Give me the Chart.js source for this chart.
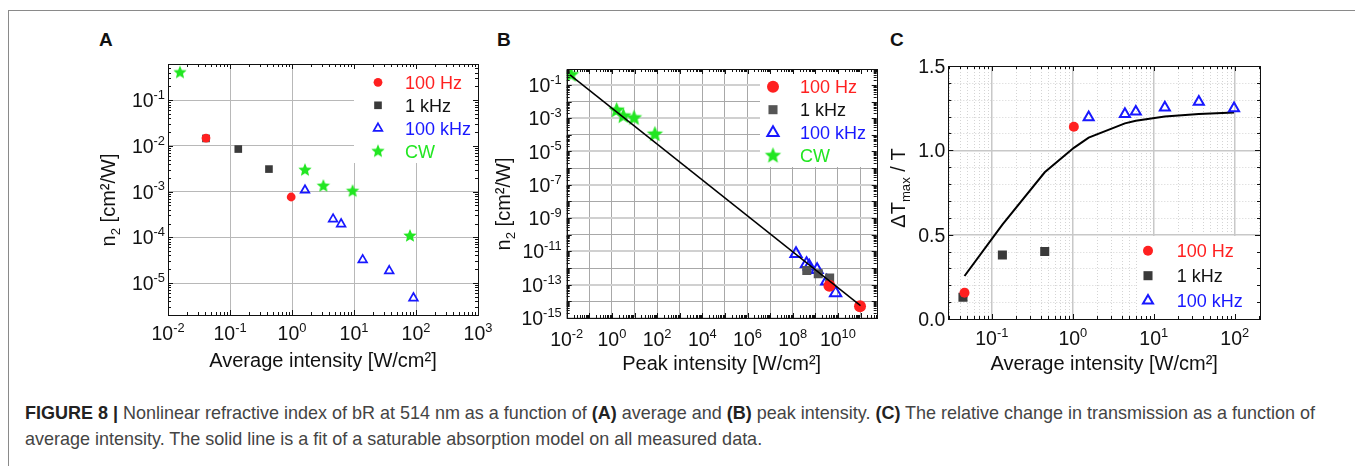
<!DOCTYPE html>
<html>
<head>
<meta charset="utf-8">
<script src="https://cdn.jsdelivr.net/npm/chart.js@4.4.1/dist/chart.umd.min.js"></script>
<style>
  body { margin: 0; background: #fff; width: 1355px; height: 466px; overflow: hidden; position: relative;
         font-family: 'Liberation Sans', Arial, sans-serif; }
  .frame { position: absolute; left: 8px; top: 10px; width: 1400px; height: 500px;
           border-left: 1px solid #8a8a8a; border-top: 1px solid #8a8a8a; }
  .cv { position: absolute; }
  .panel { position: absolute; top: 29px; font-weight: bold; font-size: 19px; color: #111; }
  .cap { position: absolute; left: 25px; top: 400px; font-size: 16px; line-height: 26px; color: #444; white-space: nowrap; }
  .cap b { color: #222; }
</style>
</head>
<body>
<div class="frame"></div>
<div class="panel" style="left:99px">A</div>
<div class="panel" style="left:497px">B</div>
<div class="panel" style="left:890px">C</div>
<canvas id="chartA" class="cv" style="left:80px;top:40px" width="425" height="345"></canvas>
<canvas id="chartB" class="cv" style="left:480px;top:40px" width="410" height="345"></canvas>
<canvas id="chartC" class="cv" style="left:870px;top:40px" width="410" height="345"></canvas>
<div class="cap" id="cap">
  <span id="cap1"><b>FIGURE 8 |</b> Nonlinear refractive index of bR at 514 nm as a function of <b>(A)</b> average and <b>(B)</b> peak intensity. <b>(C)</b> The relative change in transmission as a function of</span><br>
  <span>average intensity. The solid line is a fit of a saturable absorption model on all measured data.</span>
</div>
<script>
const FONT = "'Liberation Sans', Arial, sans-serif";
const RED = '#ff2020', DARK = '#3a3a3a', BLUE = '#1818ff', GREEN = '#22e622';

// ---- panel A : n2 vs average intensity ----
const a100HzX = [0.041, 0.97];
const a100HzY = [0.0148, 7.6e-4];
const a1kHzX = [0.041, 0.136, 0.425];
const a1kHzY = [0.0145, 0.0085, 0.0031];
const a100kHzX = [1.62, 4.6, 6.2, 13.8, 37, 91];
const a100kHzY = [1.07e-3, 2.5e-4, 1.95e-4, 3.2e-5, 1.85e-5, 4.7e-6];
const aCwX = [0.0156, 1.62, 3.2, 9.5, 80];
const aCwY = [0.40, 2.95e-3, 1.32e-3, 1.02e-3, 1.07e-4];
const aXTickExp = [-2, -1, 0, 1, 2, 3];
const aYTickExp = [-5, -4, -3, -2, -1];

// ---- panel B : n2 vs peak intensity ----
const b100HzX = [4.2e9, 9.5e10];
const b100HzY = [8.7e-14, 5e-15];
const b1kHzX = [4.2e8, 1.35e9, 4.3e9];
const b1kHzY = [7.2e-13, 4.5e-13, 2.5e-13];
const b100kHzX = [1.4e8, 4.1e8, 5.4e8, 1.2e9, 3.2e9, 7.9e9];
const b100kHzY = [7.2e-12, 1.8e-12, 1.3e-12, 7.9e-13, 1.6e-13, 3.2e-14];
const bCwX = [0.0156, 1.62, 3.2, 9.5, 80];
const bCwY = [0.40, 2.95e-3, 1.32e-3, 1.02e-3, 1.07e-4];
const bFitX = [0.014, 1.0e11];
const bFitY = [0.4, 5.5e-15];
const bXTickExp = [-2, 0, 2, 4, 6, 8, 10];
const bYTickExp = [-15, -13, -11, -9, -7, -5, -3, -1];

// ---- panel C : relative transmission change ----
const c100HzX = [0.046, 1.03];
const c100HzY = [0.156, 1.14];
const c1kHzX = [0.044, 0.135, 0.45];
const c1kHzY = [0.129, 0.38, 0.40];
const c100kHzX = [1.57, 4.4, 6.0, 13.7, 36, 98];
const c100kHzY = [1.196, 1.215, 1.229, 1.253, 1.288, 1.249];
const cFitX = [0.046, 0.135, 0.45, 1.03, 1.57, 4.4, 6.0, 13.7, 36, 98];
const cFitY = [0.255, 0.56, 0.87, 1.015, 1.075, 1.16, 1.175, 1.20, 1.215, 1.225];
const cXTickExp = [-1, 0, 1, 2];
const cYTicks = [0.0, 0.5, 1.0, 1.5];

// ---------- helpers ----------
const zip = (xs, ys) => xs.map((x, i) => ({ x, y: ys[i] }));
const decades = (a, b) => { const o = []; for (let e = a; e <= b; e++) o.push(Math.pow(10, e)); return o; };
function logMinors(lo, hi) {
  const o = [];
  for (let e = Math.floor(Math.log10(lo)) - 1; e <= Math.ceil(Math.log10(hi)); e++)
    for (let k = 2; k < 10; k++) { const v = k * Math.pow(10, e); if (v > lo && v < hi) o.push(v); }
  return o;
}
const linSteps = (a, b, st) => { const o = []; for (let v = a; v <= b + 1e-9; v += st) o.push(+v.toFixed(6)); return o; };

function starImage(R, color) {
  const c = document.createElement('canvas');
  const s = Math.ceil(2 * R + 2);
  c.width = s; c.height = s;
  const g = c.getContext('2d');
  g.fillStyle = color; g.beginPath();
  for (let i = 0; i < 10; i++) {
    const r = i % 2 ? R * 0.45 : R;
    const a = -Math.PI / 2 + i * Math.PI / 5;
    g.lineTo(s / 2 + r * Math.cos(a), s / 2 + r * Math.sin(a));
  }
  g.closePath(); g.fill();
  return c;
}

// text with super/subscripts, centred vertically on y
function rich(ctx, parts, x, y, size, align, rot) {
  ctx.save();
  ctx.translate(x, y);
  if (rot) ctx.rotate(rot);
  const f = s => (s ? size * 0.66 : size) + 'px ' + FONT;
  let w = 0;
  for (const [t, s] of parts) { ctx.font = f(s); w += ctx.measureText(t).width; }
  let cx = align === 'right' ? -w : align === 'center' ? -w / 2 : 0;
  ctx.textAlign = 'left'; ctx.textBaseline = 'alphabetic'; ctx.fillStyle = '#111';
  const base = size * 0.36;
  for (const [t, s] of parts) {
    ctx.font = f(s);
    const dy = s > 0 ? -size * 0.42 : s < 0 ? size * 0.24 : 0;
    ctx.fillText(t, cx, base + dy);
    cx += ctx.measureText(t).width;
  }
  ctx.restore();
}
const pow10Label = e => [['10', 0], [String(e), 1]];

function drawMarker(ctx, ds, x, y) {
  const st = ds.pointStyle, r = ds.pointRadius;
  ctx.save();
  if (st instanceof HTMLCanvasElement) { ctx.drawImage(st, x - st.width / 2, y - st.height / 2); ctx.restore(); return; }
  ctx.beginPath();
  if (st === 'circle') ctx.arc(x, y, r, 0, 2 * Math.PI);
  else if (st === 'rect') { const h = r * Math.SQRT1_2; ctx.rect(x - h, y - h, 2 * h, 2 * h); }
  else if (st === 'triangle') {
    for (let i = 0; i < 3; i++) { const a = i * 2 * Math.PI / 3; ctx.lineTo(x + Math.sin(a) * r, y - Math.cos(a) * r); }
    ctx.closePath();
  }
  ctx.fillStyle = ds.pointBackgroundColor; ctx.fill();
  if (ds.pointBorderWidth) { ctx.strokeStyle = ds.pointBorderColor; ctx.lineWidth = ds.pointBorderWidth; ctx.stroke(); }
  ctx.restore();
}

// frame, inward ticks, minor grid, tick labels, y title, legend
const figurePlugin = {
  id: 'figure',
  beforeDraw(chart, args, o) {
    if (!o.minorGrid) return;
    const { ctx, chartArea: ca, scales: { x, y } } = chart;
    ctx.save();
    ctx.strokeStyle = '#d4d4d4'; ctx.lineWidth = 1; ctx.setLineDash([1, 2]);
    for (const v of o.minorGrid.x) {
      const px = Math.round(x.getPixelForValue(v)) + 0.5;
      ctx.beginPath(); ctx.moveTo(px, ca.top); ctx.lineTo(px, ca.bottom); ctx.stroke();
    }
    for (const v of o.minorGrid.y) {
      const py = Math.round(y.getPixelForValue(v)) + 0.5;
      ctx.beginPath(); ctx.moveTo(ca.left, py); ctx.lineTo(ca.right, py); ctx.stroke();
    }
    ctx.restore();
  },
  afterDatasetsDraw(chart, args, o) {
    const { ctx } = chart;
    const lg = o.legend;
    ctx.save();
    ctx.fillStyle = '#fff';
    ctx.fillRect(lg.box[0], lg.box[1], lg.box[2] - lg.box[0], lg.box[3] - lg.box[1]);
    let row = 0;
    chart.data.datasets.forEach(ds => {
      if (ds.showLine) return;
      const yy = lg.y + row * lg.dy;
      drawMarker(ctx, ds, lg.mx, yy);
      ctx.font = lg.size + 'px ' + FONT;
      ctx.fillStyle = ds.textColor; ctx.textAlign = 'left'; ctx.textBaseline = 'alphabetic';
      ctx.fillText(ds.label, lg.tx, yy + lg.size * 0.36);
      row++;
    });
    ctx.restore();
  },
  afterDraw(chart, args, o) {
    const { ctx, chartArea: ca, scales: { x, y } } = chart;
    ctx.save();
    ctx.strokeStyle = '#111'; ctx.lineWidth = 1;
    const tick = (vals, len, horiz) => {
      for (const v of vals) {
        ctx.beginPath();
        if (horiz) {
          const px = Math.round(x.getPixelForValue(v)) + 0.5;
          ctx.moveTo(px, ca.bottom); ctx.lineTo(px, ca.bottom - len);
          ctx.moveTo(px, ca.top); ctx.lineTo(px, ca.top + len);
        } else {
          const py = Math.round(y.getPixelForValue(v)) + 0.5;
          ctx.moveTo(ca.left, py); ctx.lineTo(ca.left + len, py);
          ctx.moveTo(ca.right, py); ctx.lineTo(ca.right - len, py);
        }
        ctx.stroke();
      }
    };
    tick(o.xMajor, 5, true); tick(o.xMinor, 3, true);
    tick(o.yMajor, 5, false); tick(o.yMinor, 3, false);
    ctx.strokeRect(Math.round(ca.left) + 0.5, Math.round(ca.top) + 0.5,
                   Math.round(ca.right - ca.left), Math.round(ca.bottom - ca.top));
    ctx.restore();
    for (const [v, parts] of o.xLabels) rich(ctx, parts, x.getPixelForValue(v), ca.bottom + o.xLabOff, 19.5, 'center');
    for (const [v, parts] of o.yLabels) rich(ctx, parts, ca.left - o.yLabOff, y.getPixelForValue(v), 19.5, 'right');
    rich(ctx, o.yTitle, o.yTitlePos[0], o.yTitlePos[1], 20, 'center', -Math.PI / 2);
  }
};

function pointSet(label, xs, ys, style, r, fill, stroke, bw, textColor) {
  return {
    label, data: zip(xs, ys), pointStyle: style, pointRadius: r, pointHoverRadius: r,
    pointBackgroundColor: fill, pointBorderColor: stroke, pointBorderWidth: bw,
    showLine: false, textColor
  };
}
function fitSet(xs, ys, w) {
  return { label: 'fit', data: zip(xs, ys), showLine: true, pointRadius: 0, borderColor: '#000', borderWidth: w, fill: false };
}

function makeChart(id, datasets, sc, fig) {
  new Chart(document.getElementById(id), {
    type: 'scatter',
    data: { datasets },
    options: {
      responsive: false, animation: false, devicePixelRatio: 1,
      layout: { padding: sc.padding },
      plugins: { legend: { display: false }, tooltip: { enabled: false }, figure: fig },
      scales: {
        x: {
          type: sc.xType, min: sc.xMin, max: sc.xMax,
          afterBuildTicks: s => { s.ticks = sc.xGrid.map(v => ({ value: v })); },
          afterFit: s => { s.height = sc.xHeight; },
          ticks: { display: false },
          grid: Object.assign({ drawTicks: false }, sc.xGridStyle),
          border: { display: false },
          title: { display: true, text: sc.xTitle, color: '#111', font: { size: 20, family: FONT },
                   padding: { top: 0, bottom: sc.xTitlePad } }
        },
        y: {
          type: sc.yType, min: sc.yMin, max: sc.yMax,
          afterBuildTicks: s => { s.ticks = sc.yGrid.map(v => ({ value: v })); },
          afterFit: s => { s.width = sc.yWidth; },
          ticks: { display: false },
          grid: Object.assign({ drawTicks: false }, sc.yGridStyle),
          border: { display: false }
        }
      }
    },
    plugins: [figurePlugin]
  });
}

// ---------- panel A ----------
makeChart('chartA', [
  pointSet('100 Hz', a100HzX, a100HzY, 'circle', 4.4, RED, RED, 0, RED),
  pointSet('1 kHz', a1kHzX, a1kHzY, 'rect', 5.4, DARK, DARK, 0, '#111'),
  pointSet('100 kHz', a100kHzX, a100kHzY, 'triangle', 5, 'rgba(0,0,0,0)', BLUE, 1.7, BLUE),
  pointSet('CW', aCwX, aCwY, starImage(7, GREEN), 7, GREEN, GREEN, 0, GREEN)
], {
  padding: { top: 24, right: 27, left: 0, bottom: 0 },
  xType: 'logarithmic', xMin: 1e-2, xMax: 1e3, xGrid: decades(-2, 3), xHeight: 70,
  yType: 'logarithmic', yMin: 2.0e-6, yMax: 0.615, yGrid: decades(-5, -1), yWidth: 88,
  xGridStyle: { color: '#b8b8b8', lineWidth: 1 }, yGridStyle: { color: '#b8b8b8', lineWidth: 1 },
  xTitle: 'Average intensity [W/cm²]', xTitlePad: 12
}, {
  xMajor: decades(-2, 3), xMinor: logMinors(1e-2, 1e3),
  yMajor: decades(-5, -1), yMinor: logMinors(2.0e-6, 0.615),
  xLabels: aXTickExp.map(e => [Math.pow(10, e), pow10Label(e)]), xLabOff: 18,
  yLabels: aYTickExp.map(e => [Math.pow(10, e), pow10Label(e)]), yLabOff: 3,
  yTitle: [['n', 0], ['2', -1], [' [cm²/W]', 0]], yTitlePos: [28, 160],
  legend: { box: [274, 24, 398, 123], mx: 298, tx: 325, y: 42.3, dy: 23, size: 18 }
});

// ---------- panel B ----------
const oddDecade = v => Math.round(Math.log10(v)) % 2 !== 0;
makeChart('chartB', [
  fitSet(bFitX, bFitY, 1.5),
  pointSet('100 Hz', b100HzX, b100HzY, 'circle', 6, RED, RED, 0, RED),
  pointSet('1 kHz', b1kHzX, b1kHzY, 'rect', 6.4, '#555', '#555', 0, '#111'),
  pointSet('100 kHz', b100kHzX, b100kHzY, 'triangle', 6.5, 'rgba(0,0,0,0)', BLUE, 2, BLUE),
  pointSet('CW', bCwX, bCwY, starImage(8.5, GREEN), 8.5, GREEN, GREEN, 0, GREEN)
], {
  padding: { top: 29, right: 13.3, left: 0, bottom: 0 },
  xType: 'logarithmic', xMin: 1e-2, xMax: 5.2e11, xGrid: decades(-2, 11), xHeight: 67,
  yType: 'logarithmic', yMin: 1e-15, yMax: 0.9, yGrid: decades(-15, -1), yWidth: 86.7,
  xGridStyle: { color: '#a8a8a8', lineWidth: 1 },
  yGridStyle: { color: c => oddDecade(c.tick.value) ? '#d0d0d0' : '#a8a8a8',
                lineWidth: c => oddDecade(c.tick.value) ? 2 : 1 },
  xTitle: 'Peak intensity [W/cm²]', xTitlePad: 8.6
}, {
  xMajor: decades(-2, 11), xMinor: logMinors(1e-2, 5.2e11),
  yMajor: decades(-15, -1), yMinor: logMinors(1e-15, 0.9),
  xLabels: bXTickExp.map(e => [Math.pow(10, e), pow10Label(e)]), xLabOff: 21,
  yLabels: bYTickExp.map(e => [Math.pow(10, e), pow10Label(e)]), yLabOff: 5,
  yTitle: [['n', 0], ['2', -1], [' [cm²/W]', 0]], yTitlePos: [23, 164],
  legend: { box: [280, 29, 397, 127], mx: 293, tx: 320, y: 46.7, dy: 23, size: 18 }
});

// ---------- panel C ----------
makeChart('chartC', [
  pointSet('100 Hz', c100HzX, c100HzY, 'circle', 5, RED, RED, 0, RED),
  pointSet('1 kHz', c1kHzX, c1kHzY, 'rect', 6.4, DARK, DARK, 0, '#111'),
  pointSet('100 kHz', c100kHzX, c100kHzY, 'triangle', 5.8, 'rgba(0,0,0,0)', BLUE, 2, BLUE),
  fitSet(cFitX, cFitY, 2)
], {
  padding: { top: 26, right: 20, left: 0, bottom: 0 },
  xType: 'logarithmic', xMin: 0.029, xMax: 205, xGrid: decades(-1, 2), xHeight: 66,
  yType: 'linear', yMin: 0, yMax: 1.5, yGrid: [0.5, 1.0], yWidth: 78.3,
  xGridStyle: { color: '#c8c8c8', lineWidth: 1.5 }, yGridStyle: { color: '#c8c8c8', lineWidth: 1.5 },
  xTitle: 'Average intensity [W/cm²]', xTitlePad: 8.6
}, {
  minorGrid: { x: logMinors(0.029, 205), y: linSteps(0.1, 1.4, 0.1).filter(v => Math.abs(v * 2 - Math.round(v * 2)) > 1e-6) },
  xMajor: decades(-1, 2), xMinor: logMinors(0.029, 205),
  yMajor: linSteps(0, 1.5, 0.5), yMinor: linSteps(0.1, 1.4, 0.1),
  xLabels: cXTickExp.map(e => [Math.pow(10, e), pow10Label(e)]), xLabOff: 19,
  yLabels: cYTicks.map(v => [v, [[v.toFixed(1), 0]]]), yLabOff: 3,
  yTitle: [['ΔT', 0], ['max', -1], [' / T', 0]], yTitlePos: [28, 148],
  legend: { box: [267, 196, 390, 279], mx: 278, tx: 306.7, y: 210.7, dy: 25, size: 18 }
});

// fit caption first line to the figure width
const capEl = document.getElementById('cap');
const w1 = document.getElementById('cap1').getBoundingClientRect().width;
capEl.style.fontSize = (16 * 1290 / w1).toFixed(2) + 'px';
</script>
</body>
</html>
